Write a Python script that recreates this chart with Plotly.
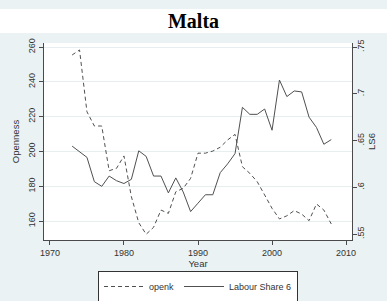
import plotly.graph_objects as go

years = list(range(1973, 2009))
openk = [255.4, 258.3, 222.8, 214.6, 214.6, 188.9, 190.3, 197.4, 174.0, 159.0,
         152.4, 156.4, 166.3, 164.4, 176.8, 178.8, 184.5, 199.0, 199.0, 200.2,
         202.4, 206.6, 209.8, 191.2, 187.4, 182.6, 175.0, 167.3, 161.2, 163.0,
         166.0, 164.0, 160.2, 169.8, 166.3, 158.3]
labour_share6 = [0.644, 0.638, 0.632, 0.606, 0.601, 0.612, 0.607, 0.604, 0.6085, 0.639,
                 0.633, 0.612, 0.612, 0.594, 0.610, 0.595, 0.574, 0.583, 0.592, 0.592,
                 0.6156, 0.625, 0.636, 0.6855, 0.678, 0.678, 0.6837, 0.661, 0.7147, 0.697,
                 0.703, 0.702, 0.675, 0.664, 0.646, 0.651]

x_ticks = [1970, 1980, 1990, 2000, 2010]
left_ticks = [160, 180, 200, 220, 240, 260]
right_ticks = [0.55, 0.6, 0.65, 0.7, 0.75]
right_labels = [".55", ".6", ".65", ".7", ".75"]

BG = "#EAF2F3"
AX = "#4a4a4a"
TXT = "#333333"

fig = go.Figure()
fig.add_trace(go.Scatter(x=years, y=openk, name="openk", mode="lines",
                         line=dict(color="#505050", width=1, dash="4px,3px")))
fig.add_trace(go.Scatter(x=years, y=labour_share6, name="Labour Share 6", mode="lines",
                         yaxis="y2", line=dict(color="#505050", width=1)))

fig.update_layout(
    width=387, height=301,
    margin=dict(l=44, r=35, t=43, b=61, autoexpand=False),
    paper_bgcolor=BG, plot_bgcolor="white",
    hovermode=False,
    font=dict(family="Liberation Sans, Arial", size=9, color=TXT),
    title=dict(text="<b>Malta</b>", x=0.5, xanchor="center", y=1 - 21 / 301, yanchor="middle",
               font=dict(family="Liberation Serif, Times New Roman", size=20, color="black")),
    showlegend=True,
    legend=dict(orientation="h", x=0.5, xanchor="center", xref="paper",
                y=1 - 271 / 301, yanchor="top", yref="container",
                bgcolor="white", bordercolor="#333333", borderwidth=1,
                font=dict(size=9, color=TXT), itemwidth=40, tracegroupgap=0),
    xaxis=dict(range=[1969.2, 2010.8], tickvals=x_ticks, ticks="outside", ticklen=4,
               tickcolor=AX, showline=True, linecolor=AX, linewidth=1, showgrid=False,
               zeroline=False, title=dict(text="Year", standoff=0, font=dict(size=9.5))),
    yaxis=dict(range=[149.1, 262.3], tickvals=left_ticks, ticks="outside", ticklen=4,
               tickcolor=AX, showline=True, linecolor=AX, linewidth=1, tickangle=-90,
               showgrid=True, gridcolor="#E6EEF0", gridwidth=1, zeroline=False,
               title=dict(text="Openness", standoff=6, font=dict(size=9.5))),
    yaxis2=dict(range=[0.5436, 0.7543], overlaying="y", side="right", tickvals=right_ticks,
                ticktext=right_labels, ticks="outside", ticklen=4, tickcolor=AX,
                showline=True, linecolor=AX, linewidth=1, tickangle=-90, showgrid=False,
                ticklabelstandoff=-4,
                zeroline=False, title=dict(text="LS6", standoff=3, font=dict(size=9.5))),
    shapes=[dict(type="rect", xref="paper", yref="paper", x0=-0.2, x1=1.2,
                 y0=1.0508, y1=1.1726, fillcolor="white", line=dict(width=0), layer="below")],
)

fig.write_html("out.html", config={"displayModeBar": False, "staticPlot": True},
               post_script="document.body.style.margin='0';")
